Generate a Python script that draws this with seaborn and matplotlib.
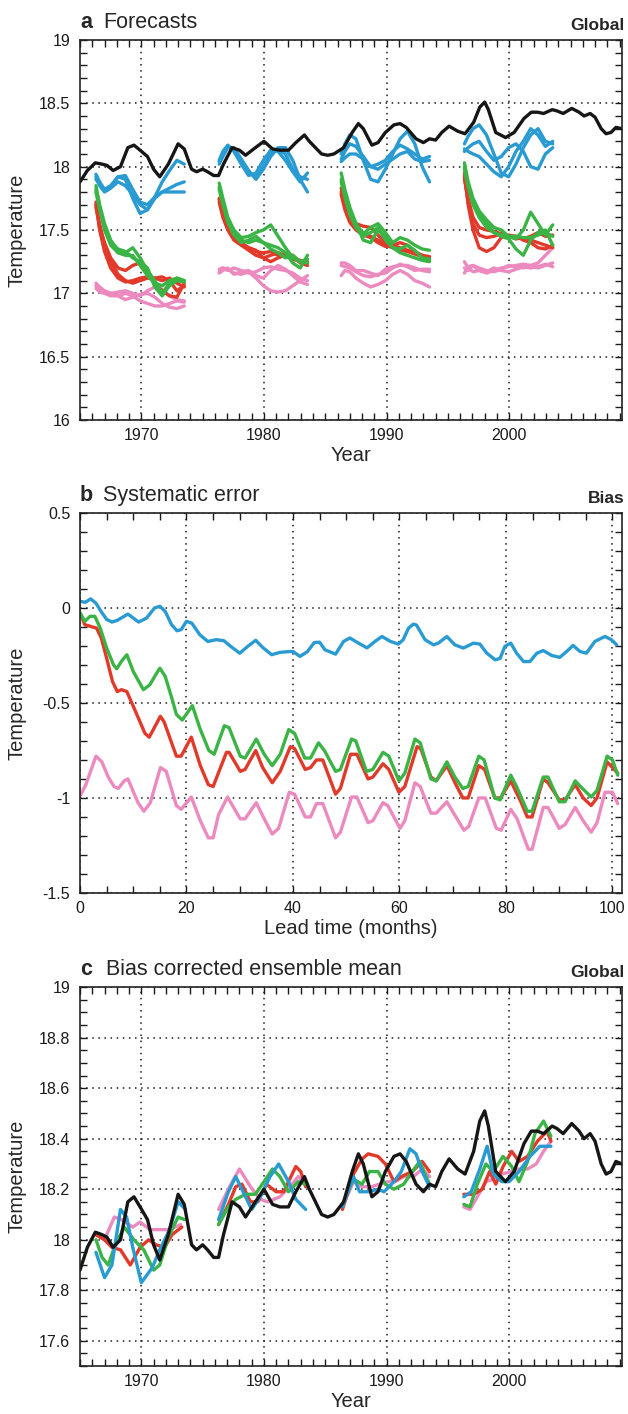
import numpy as np
import pandas as pd
import matplotlib
matplotlib.use('Agg')
import matplotlib.pyplot as plt
from matplotlib.ticker import MultipleLocator, FuncFormatter
import seaborn as sns

# ---- observed global temperature (black), used in panels a and c
obs_year = [1965.0, 1965.6, 1966.25, 1966.8, 1967.2, 1967.7, 1968.3, 1968.9, 1969.4, 1969.9,
            1970.5, 1971.0, 1971.5, 1972.2, 1972.7, 1973.0, 1973.5, 1974.1, 1974.5, 1975.0,
            1975.4, 1975.9, 1976.3, 1976.7, 1977.4, 1978.0, 1978.5, 1979.3, 1980.0, 1980.7,
            1981.3, 1982.0, 1982.6, 1983.3, 1983.7, 1984.2, 1984.7, 1985.2, 1985.7, 1986.5,
            1987.2, 1987.7, 1988.1, 1988.8, 1989.3, 1989.9, 1990.6, 1991.1, 1991.6, 1992.4,
            1993.0, 1993.5, 1994.0, 1994.5, 1995.1, 1995.8, 1996.4, 1997.1, 1997.6, 1998.0,
            1998.3, 1998.9, 1999.7, 2000.4, 2001.2, 2001.8, 2002.3, 2002.8, 2003.5, 2003.9,
            2004.4, 2005.1, 2005.7, 2006.1, 2006.6, 2007.0, 2007.5, 2007.9, 2008.3, 2008.7,
            2009.2]
obs_temp = [17.88, 17.97, 18.03, 18.02, 18.01, 17.97, 18.00, 18.15, 18.17, 18.13,
            18.08, 17.98, 17.92, 18.02, 18.12, 18.18, 18.14, 17.98, 17.96, 17.98,
            17.96, 17.93, 17.93, 18.02, 18.15, 18.13, 18.09, 18.15, 18.20, 18.14,
            18.13, 18.13, 18.19, 18.25, 18.20, 18.15, 18.10, 18.09, 18.10, 18.15,
            18.27, 18.34, 18.30, 18.17, 18.19, 18.27, 18.33, 18.34, 18.31, 18.22,
            18.19, 18.22, 18.21, 18.27, 18.32, 18.28, 18.26, 18.35, 18.47, 18.51,
            18.45, 18.27, 18.23, 18.27, 18.38, 18.43, 18.43, 18.42, 18.45, 18.44,
            18.42, 18.46, 18.43, 18.40, 18.42, 18.39, 18.30, 18.26, 18.27, 18.31,
            18.30]

# ---- panel a: raw forecasts, 4 start dates x 3 members per model
start_a = [1966.3, 1976.35, 1986.3, 1996.35]
lead_a = [0, 0.3, 0.7, 1.2, 1.8, 2.4, 3.0, 3.6, 4.2, 4.8, 5.4, 6.0, 6.6, 7.2]

blue_a = [
    [[17.94, 17.88, 17.82, 17.84, 17.92, 17.90, 17.75, 17.63, 17.66, 17.76, 17.88, 17.97, 18.05, 18.02],
     [17.92, 17.85, 17.80, 17.83, 17.88, 17.85, 17.78, 17.70, 17.66, 17.75, 17.80, 17.83, 17.86, 17.88],
     [17.90, 17.86, 17.82, 17.85, 17.92, 17.93, 17.82, 17.72, 17.70, 17.76, 17.80, 17.80, 17.80, 17.80]],
    [[18.04, 18.10, 18.16, 18.14, 18.05, 17.95, 17.92, 18.00, 18.10, 18.14, 18.10, 17.98, 17.92, 17.90],
     [18.02, 18.08, 18.15, 18.15, 18.06, 17.97, 17.90, 17.98, 18.08, 18.15, 18.15, 18.05, 17.90, 17.80],
     [18.05, 18.12, 18.17, 18.12, 18.02, 17.93, 17.95, 18.05, 18.13, 18.12, 18.05, 17.96, 17.88, 17.95]],
    [[18.10, 18.18, 18.25, 18.22, 18.05, 17.90, 17.88, 17.98, 18.10, 18.22, 18.28, 18.18, 18.00, 17.88],
     [18.06, 18.12, 18.18, 18.16, 18.08, 18.00, 18.02, 18.05, 18.12, 18.17, 18.14, 18.10, 18.06, 18.08],
     [18.04, 18.07, 18.10, 18.10, 18.06, 18.00, 17.98, 18.02, 18.06, 18.10, 18.12, 18.06, 18.04, 18.05]],
    [[18.18, 18.24, 18.30, 18.33, 18.25, 18.10, 17.95, 17.92, 18.02, 18.15, 18.25, 18.30, 18.20, 18.18],
     [18.12, 18.15, 18.18, 18.20, 18.12, 18.05, 18.08, 18.15, 18.18, 18.12, 18.00, 17.98, 18.10, 18.15],
     [18.14, 18.12, 18.10, 18.08, 18.02, 17.96, 17.92, 18.00, 18.12, 18.20, 18.30, 18.25, 18.16, 18.20]],
]
red_a = [
    [[17.72, 17.50, 17.33, 17.20, 17.12, 17.09, 17.10, 17.12, 17.13, 17.12, 17.10, 17.12, 17.08, 17.05],
     [17.70, 17.55, 17.38, 17.25, 17.15, 17.10, 17.08, 17.10, 17.12, 17.12, 17.13, 17.10, 17.02, 17.06],
     [17.68, 17.52, 17.40, 17.28, 17.20, 17.18, 17.22, 17.24, 17.15, 17.08, 17.02, 16.98, 16.97, 17.08]],
    [[17.75, 17.62, 17.52, 17.45, 17.40, 17.36, 17.33, 17.32, 17.33, 17.30, 17.29, 17.28, 17.26, 17.24],
     [17.72, 17.60, 17.50, 17.42, 17.38, 17.34, 17.30, 17.28, 17.30, 17.32, 17.30, 17.27, 17.25, 17.25],
     [17.74, 17.63, 17.55, 17.47, 17.38, 17.36, 17.34, 17.28, 17.25, 17.28, 17.30, 17.30, 17.24, 17.22]],
    [[17.83, 17.70, 17.60, 17.55, 17.53, 17.52, 17.46, 17.40, 17.38, 17.36, 17.34, 17.32, 17.30, 17.29],
     [17.80, 17.68, 17.58, 17.52, 17.48, 17.45, 17.42, 17.38, 17.36, 17.34, 17.33, 17.31, 17.29, 17.28],
     [17.78, 17.66, 17.56, 17.50, 17.46, 17.44, 17.40, 17.37, 17.38, 17.40, 17.38, 17.33, 17.30, 17.27]],
    [[17.95, 17.70, 17.50, 17.36, 17.33, 17.36, 17.44, 17.46, 17.45, 17.42, 17.40, 17.36, 17.35, 17.38],
     [17.92, 17.72, 17.55, 17.46, 17.44, 17.45, 17.47, 17.45, 17.44, 17.43, 17.45, 17.48, 17.45, 17.46],
     [17.90, 17.75, 17.60, 17.52, 17.50, 17.49, 17.47, 17.45, 17.43, 17.44, 17.42, 17.40, 17.38, 17.36]],
]
green_a = [
    [[17.85, 17.70, 17.55, 17.42, 17.34, 17.32, 17.36, 17.28, 17.18, 17.10, 17.00, 17.08, 17.12, 17.10],
     [17.82, 17.68, 17.50, 17.38, 17.32, 17.30, 17.30, 17.22, 17.14, 17.08, 17.06, 17.10, 17.12, 17.10],
     [17.80, 17.66, 17.52, 17.40, 17.35, 17.33, 17.28, 17.25, 17.20, 17.05, 16.98, 17.06, 17.10, 17.09]],
    [[17.87, 17.75, 17.60, 17.50, 17.44, 17.45, 17.48, 17.50, 17.54, 17.45, 17.36, 17.28, 17.25, 17.27],
     [17.84, 17.72, 17.58, 17.48, 17.42, 17.40, 17.42, 17.40, 17.38, 17.36, 17.32, 17.24, 17.20, 17.30],
     [17.82, 17.70, 17.56, 17.46, 17.40, 17.42, 17.45, 17.40, 17.35, 17.32, 17.28, 17.30, 17.25, 17.24]],
    [[17.95, 17.82, 17.68, 17.55, 17.47, 17.52, 17.55, 17.48, 17.40, 17.44, 17.42, 17.38, 17.35, 17.34],
     [17.90, 17.78, 17.66, 17.55, 17.42, 17.40, 17.50, 17.45, 17.36, 17.32, 17.30, 17.28, 17.26, 17.25],
     [17.88, 17.76, 17.62, 17.52, 17.45, 17.48, 17.52, 17.42, 17.36, 17.35, 17.38, 17.34, 17.28, 17.27]],
    [[18.03, 17.88, 17.75, 17.65, 17.58, 17.52, 17.50, 17.45, 17.43, 17.50, 17.64, 17.55, 17.46, 17.54],
     [18.00, 17.85, 17.72, 17.62, 17.55, 17.48, 17.45, 17.43, 17.35, 17.30, 17.42, 17.48, 17.50, 17.38],
     [17.98, 17.84, 17.70, 17.60, 17.52, 17.48, 17.46, 17.45, 17.45, 17.44, 17.44, 17.46, 17.48, 17.45]],
]
pink_a = [
    [[17.08, 17.05, 17.02, 17.00, 16.98, 16.95, 16.97, 16.99, 17.00, 16.97, 16.92, 16.89, 16.88, 16.90],
     [17.06, 17.03, 17.00, 16.98, 16.98, 17.00, 16.98, 16.94, 16.92, 16.90, 16.90, 16.92, 16.94, 16.93],
     [17.04, 17.01, 17.00, 17.00, 17.01, 17.02, 17.00, 16.98, 17.02, 17.05, 17.03, 16.98, 16.95, 16.94]],
    [[17.17, 17.20, 17.19, 17.16, 17.15, 17.17, 17.12, 17.06, 17.02, 17.01, 17.02, 17.06, 17.10, 17.14],
     [17.16, 17.18, 17.20, 17.15, 17.17, 17.18, 17.14, 17.12, 17.18, 17.22, 17.19, 17.14, 17.09, 17.07],
     [17.19, 17.20, 17.18, 17.20, 17.18, 17.16, 17.17, 17.20, 17.21, 17.19, 17.18, 17.16, 17.12, 17.10]],
    [[17.24, 17.24, 17.22, 17.18, 17.18, 17.16, 17.14, 17.19, 17.21, 17.22, 17.22, 17.20, 17.18, 17.17],
     [17.14, 17.18, 17.17, 17.12, 17.08, 17.05, 17.07, 17.10, 17.15, 17.18, 17.15, 17.10, 17.08, 17.05],
     [17.22, 17.21, 17.20, 17.17, 17.14, 17.13, 17.15, 17.16, 17.20, 17.23, 17.21, 17.18, 17.19, 17.19]],
    [[17.25, 17.20, 17.17, 17.18, 17.16, 17.18, 17.20, 17.21, 17.22, 17.23, 17.22, 17.20, 17.22, 17.24],
     [17.16, 17.21, 17.22, 17.18, 17.17, 17.20, 17.18, 17.17, 17.19, 17.21, 17.20, 17.21, 17.23, 17.21],
     [17.20, 17.18, 17.22, 17.20, 17.18, 17.17, 17.19, 17.22, 17.21, 17.20, 17.22, 17.24, 17.30, 17.36]],
]

# ---- panel b: bias against lead time (months)
b_blue_lead = [0, 1, 2, 3, 4, 5, 6, 7, 9, 10, 11, 12.5, 14, 15, 16, 17.2, 18.2, 19, 20, 21,
               22.5, 24, 25.6, 27, 28.2, 30, 31.6, 33, 34.4, 36, 37.5, 39, 40, 41.3, 42.7, 44,
               45, 46, 48, 49.5, 50.7, 52.3, 53.9, 55.4, 56.7, 58.3, 59.8, 60.7, 61.7, 62.6,
               63.2, 64.8, 66.4, 67.3, 68.9, 70.4, 72, 73.9, 75.1, 76.4, 78, 78.9, 79.8, 80.9,
               82, 83.3, 84.5, 85.8, 87, 88.6, 90.1, 91.4, 92.6, 93.9, 95.1, 96.7, 98.6, 99.8,
               100.8]
b_blue = [0.035, 0.03, 0.048, 0.025, -0.02, -0.06, -0.074, -0.065, -0.032, -0.053, -0.074,
          -0.053, 0.0, 0.009, -0.018, -0.088, -0.12, -0.114, -0.07, -0.08, -0.141, -0.176,
          -0.167, -0.172, -0.2, -0.238, -0.2, -0.17, -0.21, -0.246, -0.234, -0.23, -0.229,
          -0.255, -0.23, -0.182, -0.18, -0.22, -0.243, -0.176, -0.158, -0.185, -0.21, -0.176,
          -0.15, -0.176, -0.19, -0.167, -0.106, -0.085, -0.09, -0.167, -0.194, -0.185, -0.15,
          -0.194, -0.211, -0.185, -0.19, -0.238, -0.273, -0.265, -0.202, -0.185, -0.238,
          -0.282, -0.282, -0.238, -0.224, -0.25, -0.26, -0.229, -0.197, -0.229, -0.238,
          -0.176, -0.15, -0.167, -0.194]
b_green_lead = [0, 0.9, 1.9, 2.8, 3.8, 5, 6.3, 6.9, 7.8, 8.8, 10, 11.9, 13.1, 14.2, 15, 16,
                17.3, 18.1, 19.2, 21.1, 22.6, 24.2, 25.2, 27.1, 28, 30.1, 31, 33.1, 34.6, 36.1,
                37.6, 39.2, 40.3, 42.2, 43.3, 44.8, 45.9, 48, 48.9, 51, 51.8, 53.8, 55, 56.9,
                58, 59.9, 61, 62.9, 63.9, 65.9, 66.9, 68.9, 70.4, 71.9, 72.9, 74.9, 75.9, 77.9,
                78.9, 80.9, 82, 84, 84.9, 87, 87.9, 90, 91.1, 93, 94, 96, 97.1, 99, 100, 101]
b_green = [-0.026, -0.07, -0.044, -0.044, -0.106, -0.21, -0.3, -0.32, -0.28, -0.246,
           -0.334, -0.43, -0.405, -0.352, -0.317, -0.36, -0.48, -0.56, -0.59, -0.514,
           -0.64, -0.75, -0.77, -0.62, -0.63, -0.78, -0.79, -0.69, -0.77, -0.83,
           -0.77, -0.64, -0.66, -0.79, -0.79, -0.71, -0.75, -0.86, -0.85, -0.69,
           -0.70, -0.86, -0.85, -0.76, -0.78, -0.91, -0.87, -0.69, -0.71, -0.90,
           -0.91, -0.81, -0.89, -0.95, -0.94, -0.78, -0.80, -1.00, -1.01, -0.88,
           -0.94, -1.07, -1.07, -0.89, -0.89, -1.02, -1.02, -0.91, -0.94, -0.995,
           -0.96, -0.78, -0.80, -0.88]
b_red_lead = [0, 0.9, 2, 3.1, 4, 5, 6.1, 7, 7.8, 8.8, 10.2, 12.2, 13, 15.1, 15.8, 18.1, 19,
              20.9, 22.6, 24.1, 25, 27.5, 28, 30.1, 31, 33, 34.3, 36.1, 37.6, 39.5, 40.3, 42.3,
              43.3, 44.4, 45.6, 48, 48.9, 50.8, 52, 54.1, 55, 56.9, 58, 59.9, 61, 63.3, 64,
              65.9, 66.9, 68.9, 70.6, 71.9, 72.9, 74.9, 76, 77.9, 79, 80.9, 82.8, 84, 84.9, 87,
              87.9, 90, 91.1, 93, 94.5, 96, 97.1, 99, 100, 101]
b_red = [-0.026, -0.088, -0.097, -0.106, -0.158, -0.264, -0.387, -0.44, -0.43, -0.44,
         -0.53, -0.66, -0.68, -0.57, -0.60, -0.78, -0.78, -0.68, -0.83, -0.93,
         -0.94, -0.76, -0.76, -0.86, -0.85, -0.75, -0.84, -0.92, -0.86, -0.73,
         -0.74, -0.85, -0.84, -0.80, -0.80, -0.98, -0.95, -0.77, -0.77, -0.90,
         -0.89, -0.82, -0.85, -0.97, -0.94, -0.73, -0.74, -0.89, -0.91, -0.83,
         -0.93, -1.00, -1.00, -0.83, -0.85, -1.00, -1.00, -0.91, -1.02, -1.10,
         -1.10, -0.90, -0.92, -1.01, -1.01, -0.93, -1.00, -1.04, -1.00, -0.81,
         -0.84, -0.87]
b_pink_lead = [0, 1.1, 3, 4.1, 5.3, 6.4, 7.2, 8.3, 9, 10.9, 12, 13.2, 15.1, 16.2, 18.1, 19,
               20.9, 22.6, 24.1, 25, 26, 27.7, 30.1, 31, 33.1, 34.6, 36.1, 37.3, 39.3, 40.3,
               42.3, 43.3, 44.4, 45.6, 48, 48.9, 51, 52, 54.1, 55, 56.9, 57.8, 60.1, 61, 62.9,
               63.9, 65.9, 66.9, 68.9, 70.4, 72.1, 73, 74.9, 76.1, 78.2, 79.1, 80.9, 82.1,
               84.2, 84.9, 87, 87.9, 90, 91.1, 93, 94.5, 96, 97.1, 98.6, 100, 101]
b_pink = [-0.99, -0.93, -0.78, -0.81, -0.89, -0.94, -0.95, -0.91, -0.90, -1.025,
          -1.07, -1.025, -0.84, -0.86, -1.04, -1.06, -0.995, -1.12, -1.21, -1.21,
          -1.09, -0.995, -1.11, -1.11, -1.025, -1.11, -1.19, -1.16, -0.97, -0.98,
          -1.10, -1.10, -1.03, -1.03, -1.21, -1.18, -0.995, -0.995, -1.13, -1.12,
          -1.025, -1.04, -1.16, -1.12, -0.92, -0.94, -1.08, -1.08, -1.02, -1.09,
          -1.17, -1.15, -1.00, -1.00, -1.16, -1.17, -1.06, -1.11, -1.27, -1.27,
          -1.05, -1.05, -1.16, -1.14, -1.05, -1.12, -1.18, -1.13, -0.97, -0.97,
          -1.03]

# ---- panel c: bias corrected ensemble means, one list per start date
c_red_year = [[1966.3, 1967.0, 1967.6, 1968.3, 1969.1, 1969.9, 1970.6, 1971.2, 1971.9, 1972.5, 1973.3],
              [1976.3, 1977.1, 1977.7, 1978.2, 1978.9, 1979.5, 1980.2, 1981.0, 1981.6, 1982.6, 1983.0, 1983.4],
              [1986.4, 1987.3, 1988.0, 1988.5, 1989.3, 1989.9, 1990.6, 1991.2, 1992.1, 1992.9, 1993.5],
              [1996.3, 1997.1, 1997.8, 1998.4, 1998.9, 1999.5, 2000.2, 2000.8, 2001.5, 2002.3, 2003.1, 2003.4]]
c_red_temp = [[18.02, 18.00, 17.97, 17.96, 17.90, 17.97, 18.00, 17.98, 17.97, 18.02, 18.05],
              [18.06, 18.14, 18.21, 18.22, 18.15, 18.15, 18.22, 18.19, 18.19, 18.29, 18.27, 18.21],
              [18.12, 18.26, 18.32, 18.34, 18.33, 18.30, 18.23, 18.25, 18.27, 18.31, 18.27],
              [18.18, 18.18, 18.20, 18.27, 18.22, 18.29, 18.35, 18.31, 18.33, 18.39, 18.43, 18.39]]
c_blue_year = [[1966.3, 1967.0, 1967.6, 1968.3, 1968.8, 1969.3, 1970.0, 1970.9, 1971.5, 1972.3, 1973.0, 1973.6],
               [1976.3, 1977.1, 1977.7, 1978.4, 1979.0, 1979.7, 1980.5, 1981.2, 1982.0, 1982.6, 1983.4],
               [1986.4, 1987.3, 1987.8, 1988.5, 1989.3, 1989.8, 1990.6, 1991.2, 1991.9, 1992.4, 1992.9, 1993.5],
               [1996.3, 1996.9, 1997.6, 1998.2, 1998.7, 1999.4, 2000.0, 2000.8, 2001.7, 2002.5, 2003.4]]
c_blue_temp = [[17.95, 17.85, 17.90, 18.12, 18.09, 17.97, 17.83, 17.89, 17.96, 18.04, 18.15, 18.12],
               [18.08, 18.19, 18.25, 18.18, 18.12, 18.17, 18.25, 18.30, 18.23, 18.16, 18.12],
               [18.13, 18.25, 18.19, 18.19, 18.20, 18.19, 18.23, 18.27, 18.36, 18.34, 18.27, 18.21],
               [18.17, 18.19, 18.28, 18.37, 18.26, 18.23, 18.23, 18.27, 18.33, 18.37, 18.37]]
c_green_year = [[1966.3, 1966.8, 1967.3, 1967.8, 1968.6, 1969.4, 1970.2, 1971.0, 1971.5, 1972.2, 1973.0, 1973.5],
                [1976.3, 1977.1, 1977.7, 1978.5, 1979.3, 1980.0, 1980.7, 1981.3, 1982.0, 1982.8, 1983.4],
                [1986.4, 1987.3, 1988.0, 1988.6, 1989.3, 1989.9, 1990.6, 1991.4, 1992.1, 1992.7, 1993.5],
                [1996.3, 1996.8, 1997.4, 1998.1, 1998.7, 1999.5, 2000.2, 2000.8, 2001.5, 2002.1, 2002.8, 2003.4]]
c_green_temp = [[18.00, 17.93, 17.90, 17.97, 18.05, 18.00, 17.96, 17.88, 17.90, 18.01, 18.09, 18.08],
                [18.06, 18.13, 18.16, 18.18, 18.18, 18.23, 18.28, 18.25, 18.19, 18.23, 18.22],
                [18.14, 18.24, 18.22, 18.27, 18.27, 18.22, 18.20, 18.22, 18.27, 18.31, 18.22],
                [18.14, 18.13, 18.22, 18.30, 18.27, 18.33, 18.29, 18.23, 18.31, 18.42, 18.47, 18.41]]
c_pink_year = [[1966.3, 1967.0, 1967.8, 1968.4, 1969.3, 1969.9, 1970.7, 1971.5, 1972.3, 1973.2],
               [1976.3, 1977.2, 1978.0, 1978.9, 1979.7, 1980.3, 1981.3, 1982.1, 1982.8, 1983.4],
               [1986.4, 1987.3, 1988.0, 1988.8, 1989.4, 1990.1, 1990.7, 1991.4, 1992.2, 1992.9, 1993.5],
               [1996.3, 1996.8, 1997.4, 1998.1, 1998.7, 1999.4, 2000.2, 2000.8, 2001.5, 2002.2, 2002.8, 2003.4]]
c_pink_temp = [[18.02, 18.00, 18.09, 18.08, 18.05, 18.07, 18.04, 18.04, 18.04, 18.06],
               [18.12, 18.21, 18.28, 18.21, 18.16, 18.15, 18.17, 18.21, 18.25, 18.22],
               [18.13, 18.23, 18.21, 18.21, 18.22, 18.23, 18.23, 18.25, 18.25, 18.28, 18.25],
               [18.13, 18.12, 18.17, 18.23, 18.24, 18.26, 18.27, 18.28, 18.28, 18.30, 18.35, 18.39]]

models = ['pink', 'red', 'green', 'blue']
colors = {'pink': '#ec8abf', 'red': '#e23a2a', 'green': '#3bb446', 'blue': '#2a9bd2'}
black = '#161616'

# long tables for seaborn
rows = []
for name, runs_by_start in zip(models, [pink_a, red_a, green_a, blue_a]):
    for g, runs in enumerate(runs_by_start):
        for r, vals in enumerate(runs):
            for lead, v in zip(lead_a, vals):
                rows.append((start_a[g] + lead, v, name, '%s%d%d' % (name, g, r)))
df_a = pd.DataFrame(rows, columns=['year', 'temp', 'model', 'run'])

df_b = pd.concat([
    pd.DataFrame({'lead': b_pink_lead, 'bias': b_pink, 'model': 'pink'}),
    pd.DataFrame({'lead': b_red_lead, 'bias': b_red, 'model': 'red'}),
    pd.DataFrame({'lead': b_green_lead, 'bias': b_green, 'model': 'green'}),
    pd.DataFrame({'lead': b_blue_lead, 'bias': b_blue, 'model': 'blue'}),
])

rows = []
for name, yrs, tps in [('pink', c_pink_year, c_pink_temp), ('red', c_red_year, c_red_temp),
                       ('green', c_green_year, c_green_temp), ('blue', c_blue_year, c_blue_temp)]:
    for g in range(4):
        for y, t in zip(yrs[g], tps[g]):
            rows.append((y, t, name, '%s%d' % (name, g)))
df_c = pd.DataFrame(rows, columns=['year', 'temp', 'model', 'run'])

sns.set_theme(style='ticks')
plt.rcParams['font.family'] = ['Liberation Sans', 'DejaVu Sans']
plt.rcParams['axes.linewidth'] = 1.2

fig = plt.figure(figsize=(6.28, 14.14), dpi=100)
ax_a = fig.add_axes([0.1274, 0.7030, 0.8631, 0.2687])
ax_b = fig.add_axes([0.1274, 0.3685, 0.8631, 0.2687])
ax_c = fig.add_axes([0.1274, 0.0339, 0.8631, 0.2680])

lw = 2.4
pal = [colors[m] for m in models]

sns.lineplot(data=df_a, x='year', y='temp', hue='model', units='run', estimator=None,
             hue_order=models, palette=pal, lw=lw, sort=False, legend=False, ax=ax_a)
sns.lineplot(x=obs_year, y=obs_temp, color=black, lw=lw, sort=False, ax=ax_a)

sns.lineplot(data=df_b, x='lead', y='bias', hue='model', estimator=None,
             hue_order=models, palette=pal, lw=lw, sort=False, legend=False, ax=ax_b)

sns.lineplot(data=df_c, x='year', y='temp', hue='model', units='run', estimator=None,
             hue_order=models, palette=pal, lw=lw, sort=False, legend=False, ax=ax_c)
sns.lineplot(x=obs_year, y=obs_temp, color=black, lw=lw, sort=False, ax=ax_c)

fmt = FuncFormatter(lambda v, p: '0' if abs(v) < 1e-9 else '%g' % round(v, 3))

def style(ax, xlim, ylim, xmaj, xmin, ymaj, ymin, xlabel, letter, title, tag, tdx):
    ax.set_xlim(*xlim)
    ax.set_ylim(*ylim)
    ax.xaxis.set_major_locator(MultipleLocator(xmaj))
    ax.xaxis.set_minor_locator(MultipleLocator(xmin))
    ax.yaxis.set_major_locator(MultipleLocator(ymaj))
    ax.yaxis.set_minor_locator(MultipleLocator(ymin))
    ax.xaxis.set_major_formatter(fmt)
    ax.yaxis.set_major_formatter(fmt)
    ax.tick_params(which='both', direction='in', top=True, right=True, length=5, width=1.0,
                   color='k', labelsize=11.5, labelcolor='#1a1a1a')
    ax.tick_params(axis='x', pad=6)
    ax.tick_params(axis='y', pad=7)
    ax.grid(True, which='major', color='k', linestyle=(0, (1, 3)), linewidth=1.1)
    ax.set_axisbelow(True)
    for s in ax.spines.values():
        s.set_color('#222222')
    ax.set_xlabel(xlabel, fontsize=14.5)
    ax.set_ylabel('Temperature', fontsize=14.5)
    ax.xaxis.set_label_coords(0.5, -0.068)
    ax.yaxis.set_label_coords(-0.098, 0.5)
    ax.annotate(letter, xy=(0, 1), xycoords='axes fraction', xytext=(0, 8.5),
                textcoords='offset points', fontsize=15.5, fontweight='bold', va='baseline')
    ax.annotate(title, xy=(0, 1), xycoords='axes fraction', xytext=(tdx, 8.5),
                textcoords='offset points', fontsize=15.5, va='baseline')
    ax.annotate(tag, xy=(1, 1), xycoords='axes fraction', xytext=(2, 7.5),
                textcoords='offset points', fontsize=12.5, fontweight='bold',
                ha='right', va='baseline')

style(ax_a, (1965, 2009.2), (16, 19), 10, 1, 0.5, 0.1, 'Year', 'a', 'Forecasts', 'Global', 16.5)
style(ax_b, (0, 101.8), (-1.5, 0.5), 20, 5, 0.5, 0.1, 'Lead time (months)', 'b',
      'Systematic error', 'Bias', 16.5)
style(ax_c, (1965, 2009.2), (17.5, 19), 10, 1, 0.2, 0.05, 'Year', 'c',
      'Bias corrected ensemble mean', 'Global', 19)

fig.savefig('out.png', dpi=100)
